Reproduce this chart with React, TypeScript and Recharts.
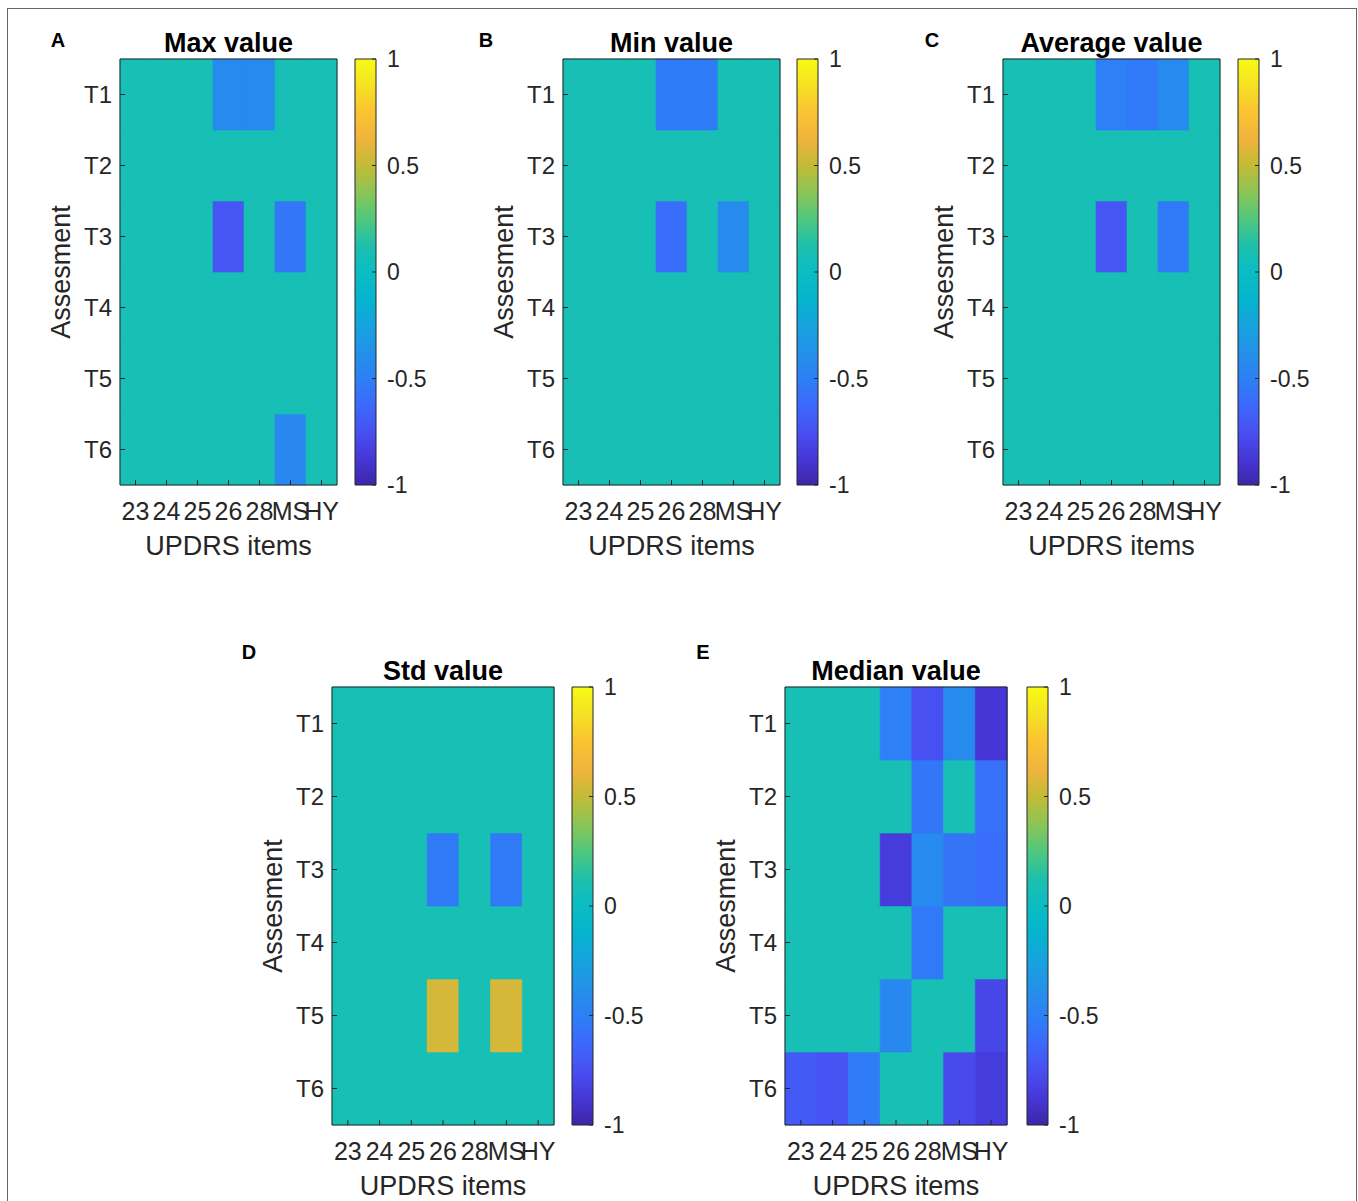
import React from "react";
import { Bar, BarChart, Cell, XAxis, YAxis } from "recharts";

// UPDRS items (columns) and assessments (rows, top to bottom)
const items = ["23", "24", "25", "26", "28", "MS", "HY"];
const assessments = ["T1", "T2", "T3", "T4", "T5", "T6"];
const colorbarTicks = [-1, -0.5, 0, 0.5, 1];

const bg = 0.08;

const maxValues = [
  [bg, bg, bg, -0.42, -0.42, bg, bg],
  [bg, bg, bg, bg, bg, bg, bg],
  [bg, bg, bg, -0.72, bg, -0.55, bg],
  [bg, bg, bg, bg, bg, bg, bg],
  [bg, bg, bg, bg, bg, bg, bg],
  [bg, bg, bg, bg, bg, -0.45, bg],
];

const minValues = [
  [bg, bg, bg, -0.52, -0.52, bg, bg],
  [bg, bg, bg, bg, bg, bg, bg],
  [bg, bg, bg, -0.6, bg, -0.42, bg],
  [bg, bg, bg, bg, bg, bg, bg],
  [bg, bg, bg, bg, bg, bg, bg],
  [bg, bg, bg, bg, bg, bg, bg],
];

const averageValues = [
  [bg, bg, bg, -0.5, -0.53, -0.43, bg],
  [bg, bg, bg, bg, bg, bg, bg],
  [bg, bg, bg, -0.72, bg, -0.53, bg],
  [bg, bg, bg, bg, bg, bg, bg],
  [bg, bg, bg, bg, bg, bg, bg],
  [bg, bg, bg, bg, bg, bg, bg],
];

const stdValues = [
  [bg, bg, bg, bg, bg, bg, bg],
  [bg, bg, bg, bg, bg, bg, bg],
  [bg, bg, bg, -0.53, bg, -0.53, bg],
  [bg, bg, bg, bg, bg, bg, bg],
  [bg, bg, bg, 0.55, bg, 0.55, bg],
  [bg, bg, bg, bg, bg, bg, bg],
];

const medianValues = [
  [bg, bg, bg, -0.5, -0.75, -0.42, -0.88],
  [bg, bg, bg, bg, -0.55, bg, -0.58],
  [bg, bg, bg, -0.85, -0.43, -0.56, -0.6],
  [bg, bg, bg, bg, -0.53, bg, bg],
  [bg, bg, bg, -0.45, bg, bg, -0.8],
  [-0.7, -0.73, -0.52, bg, bg, -0.78, -0.85],
];

// parula-like colormap, sampled from the colorbar
const cmapStops = [-1, -0.875, -0.75, -0.625, -0.5, -0.375, -0.25, -0.125, 0, 0.125, 0.25, 0.375, 0.5, 0.625, 0.75, 0.875, 1];
const cmapColors = [
  [62, 38, 168], [70, 55, 215], [72, 80, 242], [60, 105, 252], [45, 128, 245],
  [35, 145, 232], [22, 163, 222], [5, 180, 205], [10, 188, 195], [30, 192, 172],
  [80, 200, 125], [140, 197, 85], [195, 187, 55], [240, 180, 60], [250, 195, 50],
  [245, 225, 35], [248, 250, 20],
];

function colorOf(v: number) {
  const t = Math.max(-1, Math.min(1, v));
  let k = 0;
  while (k < cmapStops.length - 2 && t > cmapStops[k + 1]) k++;
  const f = (t - cmapStops[k]) / (cmapStops[k + 1] - cmapStops[k]);
  const c = cmapColors[k].map((a, j) => Math.round(a + (cmapColors[k + 1][j] - a) * f));
  return `rgb(${c[0]},${c[1]},${c[2]})`;
}

const INK = "#262626";
const FONT = "'Liberation Sans', Arial, Helvetica, sans-serif";
const LEFT = 60;
const TOP = 10;
const RIGHT = 10;
const BOTTOM = 40;

const panels = [
  { id: "a", letter: "A", title: "Max value", values: maxValues, x: 120, y: 59, w: 217, h: 426, cb: 355, lx: 58, ly: 40 },
  { id: "b", letter: "B", title: "Min value", values: minValues, x: 563, y: 59, w: 217, h: 426, cb: 797, lx: 486, ly: 40 },
  { id: "c", letter: "C", title: "Average value", values: averageValues, x: 1003, y: 59, w: 217, h: 426, cb: 1238, lx: 932, ly: 40 },
  { id: "d", letter: "D", title: "Std value", values: stdValues, x: 332, y: 687, w: 222, h: 438, cb: 572, lx: 249, ly: 652 },
  { id: "e", letter: "E", title: "Median value", values: medianValues, x: 785, y: 687, w: 222, h: 438, cb: 1027, lx: 703, ly: 652 },
];

function Txt({ x, y, size, bold, rotate, children }: any) {
  return (
    <div
      style={{
        position: "absolute",
        left: x,
        top: y,
        transform: `translate(-50%, -50%)${rotate ? " rotate(-90deg)" : ""}`,
        fontSize: size,
        fontWeight: bold ? "bold" : "normal",
        lineHeight: 1,
        whiteSpace: "nowrap",
        color: bold ? "#000" : INK,
      }}
    >
      {children}
    </div>
  );
}

function Heatmap({ values, x, y, w, h }: any) {
  const data = items.map((item) => {
    const row: Record<string, string | number> = { item };
    assessments.forEach((a) => (row[a] = 1));
    return row;
  });
  const rowTicks = assessments.map((_, k) => k + 0.5);
  const stackOrder = [...assessments].reverse();
  return (
    <div style={{ position: "absolute", left: x - LEFT, top: y - TOP }}>
      <BarChart
        width={LEFT + w + RIGHT}
        height={TOP + h + BOTTOM}
        data={data}
        margin={{ top: TOP, right: RIGHT, left: 0, bottom: 0 }}
        barCategoryGap={0}
        barGap={0}
      >
        {stackOrder.map((a) => {
          const r = assessments.indexOf(a);
          return (
            <Bar key={a} dataKey={a} stackId="cells" isAnimationActive={false}>
              {items.map((item, i) => (
                <Cell key={item} fill={colorOf(values[r][i])} stroke={colorOf(values[r][i])} strokeWidth={0.6} />
              ))}
            </Bar>
          );
        })}
        <XAxis
          dataKey="item"
          interval={0}
          height={BOTTOM}
          tickSize={-5}
          tickMargin={22}
          stroke={INK}
          tick={{ fontSize: 25, fill: INK, fontFamily: FONT }}
        />
        <XAxis xAxisId="top" dataKey="item" orientation="top" mirror tick={false} tickSize={5} stroke={INK} />
        <YAxis
          type="number"
          domain={[0, 6]}
          ticks={rowTicks}
          interval={0}
          width={LEFT}
          tickSize={-5}
          tickMargin={13}
          stroke={INK}
          tickFormatter={(v: number) => assessments[5 - Math.floor(v)]}
          tick={{ fontSize: 24, fill: INK, fontFamily: FONT }}
        />
        <YAxis
          yAxisId="right"
          orientation="right"
          mirror
          type="number"
          domain={[0, 6]}
          ticks={rowTicks}
          interval={0}
          tick={false}
          tickSize={5}
          stroke={INK}
        />
      </BarChart>
    </div>
  );
}

function Colorbar({ id, x, y, h }: any) {
  const cbW = 21;
  const pad = 20;
  const gradId = `parula-${id}`;
  return (
    <div style={{ position: "absolute", left: x - 1, top: y - pad }}>
      <BarChart
        width={cbW + 66}
        height={h + 2 * pad}
        data={[{ k: "cb", span: [-1, 1] }]}
        margin={{ top: pad, right: 0, left: 1, bottom: pad }}
        barCategoryGap={0}
      >
        <defs>
          <linearGradient id={gradId} x1="0" y1="1" x2="0" y2="0">
            {cmapStops.map((s) => (
              <stop key={s} offset={(s + 1) / 2} stopColor={colorOf(s)} />
            ))}
          </linearGradient>
        </defs>
        <XAxis dataKey="k" hide />
        <YAxis
          orientation="right"
          type="number"
          domain={[-1, 1]}
          ticks={colorbarTicks}
          interval={0}
          width={65}
          axisLine={false}
          tickSize={-4}
          tickMargin={15}
          stroke={INK}
          tick={{ fontSize: 23, fill: INK, fontFamily: FONT, textAnchor: "start" }}
        />
        <Bar dataKey="span" fill={`url(#${gradId})`} stroke={INK} strokeWidth={1} isAnimationActive={false} />
      </BarChart>
    </div>
  );
}

export default function App() {
  return (
    <div
      style={{
        position: "absolute",
        left: 0,
        top: 0,
        width: 1358,
        height: 1201,
        background: "#fff",
        overflow: "hidden",
        fontFamily: FONT,
      }}
    >
      <div style={{ position: "absolute", left: 7, top: 8, width: 1348, height: 1250, border: "1px solid #666" }} />
      {panels.map((p) => (
        <React.Fragment key={p.id}>
          <Txt x={p.lx} y={p.ly} size={20} bold>
            {p.letter}
          </Txt>
          <Txt x={p.x + p.w / 2} y={p.y - 16} size={27} bold>
            {p.title}
          </Txt>
          <Heatmap values={p.values} x={p.x} y={p.y} w={p.w} h={p.h} />
          <Colorbar id={p.id} x={p.cb} y={p.y} h={p.h} />
          <Txt x={p.x + p.w / 2} y={p.y + p.h + 61} size={27}>
            UPDRS items
          </Txt>
          <Txt x={p.x - 59} y={p.y + p.h / 2} size={27} rotate>
            Assesment
          </Txt>
        </React.Fragment>
      ))}
    </div>
  );
}
